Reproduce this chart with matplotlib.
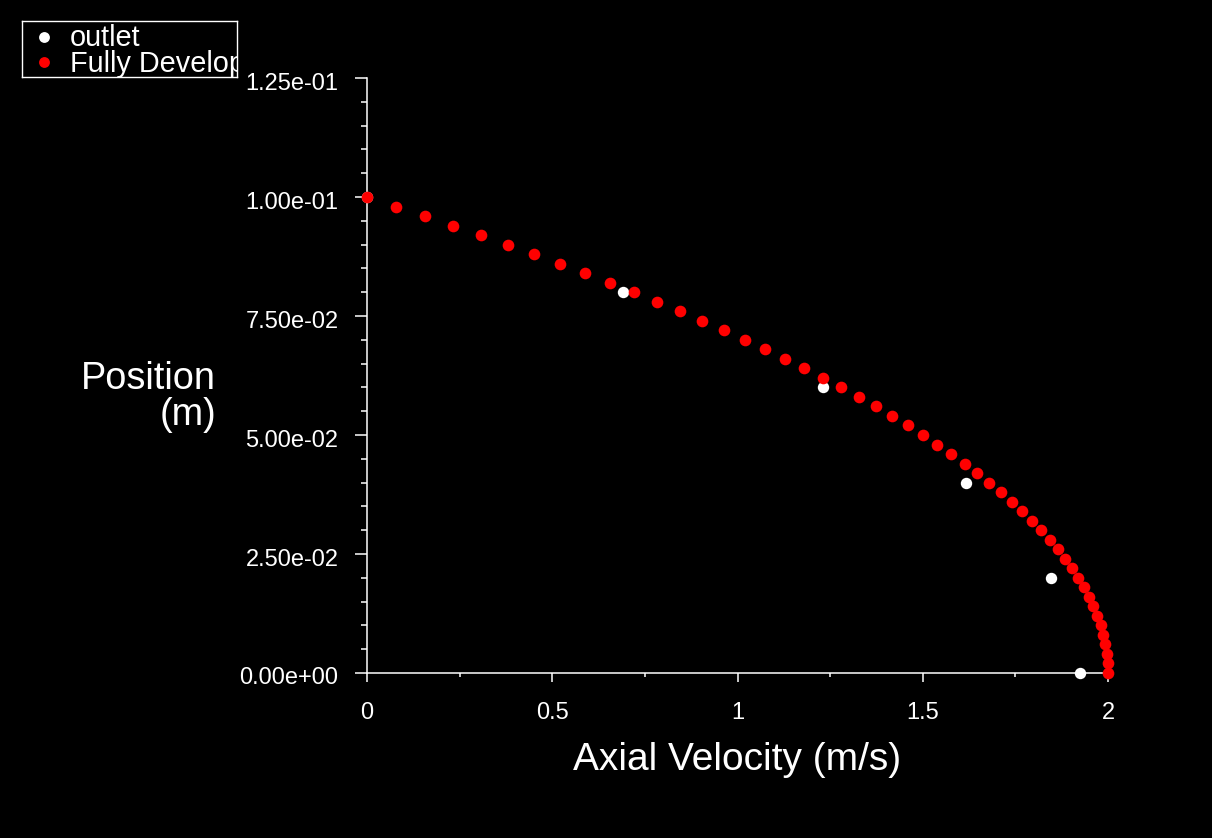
import matplotlib
matplotlib.use("Agg")
import matplotlib.pyplot as plt
from matplotlib.ticker import MultipleLocator, FixedLocator
from matplotlib.transforms import ScaledTranslation

plt.rcParams['font.family'] = ['Liberation Sans', 'DejaVu Sans']

# ---- data ----
series_names = ["outlet", "Fully Developed"]
series_colors = ["white", "#ff0000"]

outlet_velocity = [0.0, 0.691, 1.231, 1.617, 1.846, 1.924]
outlet_position = [0.10, 0.08, 0.06, 0.04, 0.02, 0.0]

fd_position = [0.000, 0.002, 0.004, 0.006, 0.008, 0.010, 0.012, 0.014, 0.016, 0.018,
               0.020, 0.022, 0.024, 0.026, 0.028, 0.030, 0.032, 0.034, 0.036, 0.038,
               0.040, 0.042, 0.044, 0.046, 0.048, 0.050, 0.052, 0.054, 0.056, 0.058,
               0.060, 0.062, 0.064, 0.066, 0.068, 0.070, 0.072, 0.074, 0.076, 0.078,
               0.080, 0.082, 0.084, 0.086, 0.088, 0.090, 0.092, 0.094, 0.096, 0.098,
               0.100]
fd_velocity = [2.0, 1.9992, 1.9968, 1.9928, 1.9872, 1.98, 1.9712, 1.9608, 1.9488, 1.9352,
               1.92, 1.9032, 1.8848, 1.8648, 1.8432, 1.82, 1.7952, 1.7688, 1.7408, 1.7112,
               1.68, 1.6472, 1.6128, 1.5768, 1.5392, 1.5, 1.4592, 1.4168, 1.3728, 1.3272,
               1.28, 1.2312, 1.1808, 1.1288, 1.0752, 1.02, 0.9632, 0.9048, 0.8448, 0.7832,
               0.72, 0.6552, 0.5888, 0.5208, 0.4512, 0.38, 0.3072, 0.2328, 0.1568, 0.0792,
               0.0]

x_ticks = [0, 0.5, 1, 1.5, 2]
x_tick_labels = ["0", "0.5", "1", "1.5", "2"]
y_ticks = [0.0, 0.025, 0.05, 0.075, 0.1, 0.125]
y_tick_labels = ["0.00e+00", "2.50e-02", "5.00e-02", "7.50e-02", "1.00e-01", "1.25e-01"]

x_title = "Axial Velocity (m/s)"
y_title = "Position\n(m)"

# ---- figure ----
W, H = 1212, 838
fig = plt.figure(figsize=(W / 100, H / 100), dpi=100, facecolor="black")
ax = fig.add_axes([367 / W, 1 - 673 / H, (1108 - 367) / W, (673 - 78) / H])
ax.set_facecolor("black")

ax.plot(outlet_velocity, outlet_position, linestyle="none", marker="o",
        markersize=8.2, color=series_colors[0], markeredgewidth=0, clip_on=False, zorder=3)
ax.plot(fd_velocity, fd_position, linestyle="none", marker="o",
        markersize=8.4, color=series_colors[1], markeredgewidth=0, clip_on=False, zorder=4)

ax.set_xlim(0, 2)
ax.set_ylim(0, 0.125)

for s in ["top", "right"]:
    ax.spines[s].set_visible(False)
for s in ["left", "bottom"]:
    ax.spines[s].set_color("white")
    ax.spines[s].set_linewidth(1.1)

ax.xaxis.set_major_locator(FixedLocator(x_ticks))
ax.set_xticklabels(x_tick_labels)
ax.xaxis.set_minor_locator(MultipleLocator(0.25))
ax.yaxis.set_major_locator(FixedLocator(y_ticks))
ax.set_yticklabels(y_tick_labels)
ax.yaxis.set_minor_locator(MultipleLocator(0.005))

ax.tick_params(axis="x", which="major", direction="out", length=6.5, width=1.1,
               colors="white", labelsize=17, pad=14.5)
ax.tick_params(axis="x", which="minor", direction="out", length=3.2, width=1.1, colors="white")
ax.tick_params(axis="y", which="major", direction="out", length=8.6, width=1.1,
               colors="white", labelsize=17, pad=12)
ax.tick_params(axis="y", which="minor", direction="out", length=4.3, width=1.1, colors="white")

# the original's y tick labels sit a few pixels below their ticks
shift = ScaledTranslation(0, -3 / 100, fig.dpi_scale_trans)
for lab in ax.get_yticklabels():
    lab.set_transform(lab.get_transform() + shift)

fig.text(737 / W, 1 - 760 / H, x_title, color="white", fontsize=28,
         ha="center", va="center")
fig.text(216 / W, 1 - 397 / H, y_title, color="white", fontsize=27.3,
         ha="right", va="center", multialignment="right", linespacing=1.0)

# ---- legend box (clipped, as in the original) ----
lx0, ly0, lw, lh = 22, 21, 215, 56
lax = fig.add_axes([lx0 / W, 1 - (ly0 + lh) / H, lw / W, lh / H])
lax.set_facecolor("black")
lax.set_xlim(0, lw)
lax.set_ylim(lh, 0)
lax.set_xticks([])
lax.set_yticks([])
for s in lax.spines.values():
    s.set_color("white")
    s.set_linewidth(1.0)
marker_y = [16, 41]
text_baseline = [25, 51.5]
for name, col, my, ty in zip(series_names, series_colors, marker_y, text_baseline):
    lax.plot([22], [my], linestyle="none", marker="o", markersize=7.8,
             color=col, markeredgewidth=0)
    t = lax.text(48, ty, name, color="white", fontsize=20.8, ha="left", va="baseline")
    t.set_clip_on(True)

fig.savefig("out.png", dpi=100, facecolor="black")
